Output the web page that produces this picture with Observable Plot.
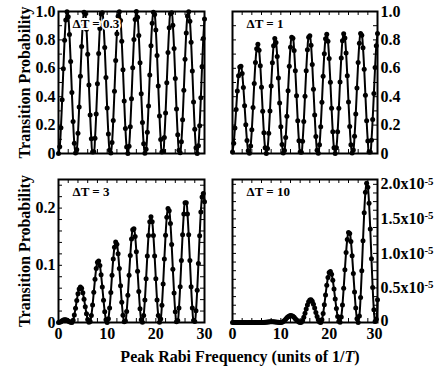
<!DOCTYPE html>
<html><head><meta charset="utf-8">
<script src="https://cdn.jsdelivr.net/npm/d3@7"></script>
<script src="https://cdn.jsdelivr.net/npm/@observablehq/plot@0.6"></script>
<style>
body{margin:0;background:#fff;}
#chart{position:relative;width:441px;height:378px;font-family:"Liberation Serif","Times New Roman",serif;font-weight:bold;color:#000;}
#chart svg{position:absolute;overflow:visible;}
#xlabel{position:absolute;left:40px;width:400px;top:348px;text-align:center;font-size:16px;line-height:18px;white-space:nowrap;}
</style></head>
<body>
<div id="chart"><div id="xlabel">Peak Rabi Frequency (units of 1/<i>T</i>)</div></div>
<script>
// Peak Rabi frequency (units of 1/T)
const rabiFreq = [0,0.25,0.5,0.75,1,1.25,1.5,1.75,2,2.25,2.5,2.75,3,3.25,3.5,3.75,4,4.25,4.5,4.75,5,5.25,5.5,5.75,6,6.25,6.5,6.75,7,7.25,7.5,7.75,8,8.25,8.5,8.75,9,9.25,9.5,9.75,10,10.25,10.5,10.75,11,11.25,11.5,11.75,12,12.25,12.5,12.75,13,13.25,13.5,13.75,14,14.25,14.5,14.75,15,15.25,15.5,15.75,16,16.25,16.5,16.75,17,17.25,17.5,17.75,18,18.25,18.5,18.75,19,19.25,19.5,19.75,20,20.25,20.5,20.75,21,21.25,21.5,21.75,22,22.25,22.5,22.75,23,23.25,23.5,23.75,24,24.25,24.5,24.75,25,25.25,25.5,25.75,26,26.25,26.5,26.75,27,27.25,27.5,27.75,28,28.25,28.5,28.75,29,29.25,29.5,29.75,30];

// Transition probability, ΔT = 0.3
const probDT03 = [0,0.048,0.182,0.378,0.596,0.797,0.940,0.999,0.963,0.838,0.648,0.430,0.226,0.073,0.003,
0.028,0.143,0.327,0.544,0.753,0.913,0.994,0.980,0.875,0.699,0.482,0.271,0.103,0.011,
0.013,0.108,0.278,0.491,0.705,0.880,0.982,0.992,0.907,0.746,0.536,0.320,0.138,0.025,
0.004,0.077,0.232,0.438,0.655,0.843,0.966,0.998,0.936,0.790,0.589,0.370,0.176,0.045,
0.000,0.051,0.188,0.385,0.604,0.803,0.943,1.000,0.960,0.831,0.639,0.421,0.219,0.069,0.002,
0.030,0.149,0.334,0.552,0.759,0.917,0.995,0.978,0.869,0.691,0.475,0.264,0.099,0.010,
0.015,0.113,0.285,0.499,0.712,0.885,0.984,0.991,0.903,0.739,0.528,0.313,0.132,0.023,0.005,
0.082,0.238,0.446,0.663,0.849,0.968,0.998,0.932,0.784,0.581,0.363,0.170,0.041,0.000,
0.055,0.195,0.393,0.612,0.809,0.948];

// Transition probability, ΔT = 1
const probDT1 = [0.011,0.073,0.179,0.310,0.441,0.548,0.609,0.615,0.564,0.465,0.337,0.203,0.091,0.019,
0.001,0.053,0.167,0.324,0.493,0.640,0.738,0.770,0.727,0.618,0.466,0.298,0.146,0.040,0.000,
0.036,0.142,0.299,0.476,0.639,0.758,0.809,0.782,0.683,0.532,0.355,0.188,0.063,0.003,
0.021,0.113,0.263,0.442,0.614,0.749,0.818,0.811,0.726,0.583,0.406,0.230,0.090,0.011,
0.009,0.086,0.226,0.403,0.583,0.730,0.818,0.830,0.762,0.627,0.453,0.272,0.119,0.023,
0.002,0.061,0.189,0.361,0.544,0.703,0.808,0.839,0.790,0.669,0.501,0.318,0.153,0.040,
0.000,0.041,0.154,0.319,0.504,0.673,0.794,0.844,0.814,0.708,0.548,0.363,0.191,0.062,0.003,
0.024,0.122,0.278,0.462,0.640,0.776,0.845,0.833,0.744,0.594,0.410,0.230,0.088,0.010,
0.011,0.093,0.240,0.422,0.606,0.758,0.845];

// Transition probability, ΔT = 3
const probDT3 = [0,0.0004,0.0015,0.0029,0.0042,0.0049,0.0048,0.0040,0.0027,0.0013,0.0003,
0.0001,0.0040,0.0129,0.0250,0.0383,0.0502,0.0586,0.0620,0.0597,0.0521,0.0407,0.0277,0.0151,0.0054,0.0004,
0.0018,0.0123,0.0304,0.0528,0.0755,0.0942,0.1055,0.1075,0.0998,0.0834,0.0621,0.0389,0.0189,0.0049,0,
0.0066,0.0252,0.0523,0.0827,0.1109,0.1316,0.1407,0.1368,0.1204,0.0946,0.0644,0.0353,0.0127,0.0011,
0.0028,0.0193,0.0476,0.0825,0.1173,0.1459,0.1622,0.1637,0.1502,0.1238,0.0896,0.0541,0.0241,0.0050,
0.0004,0.0124,0.0395,0.0765,0.1164,0.1519,0.1763,0.1850,0.1763,0.1519,0.1164,0.0765,0.0395,0.0124,0.0004,
0.0062,0.0301,0.0673,0.1110,0.1524,0.1839,0.1991,0.1953,0.1730,0.1364,0.0931,0.0514,0.0186,0.0015,
0.0037,0.0255,0.0627,0.1083,0.1535,0.1896,0.2094,0.2094,0.1896,0.1535,0.1083,0.0627,0.0255,0.0037,
0.0017,0.0204,0.0565,0.1033,0.1516,0.1930,0.2192,0.2255,0.2109];

// Transition probability, ΔT = 10, in units of 10^-5 (as the axis labels)
const probDT10e5 = [0,0,0,0,0,0,0,0,0,0,0,0,0,0,0,0,0,0,0,0,0,0,0,0,0,
0,0.001,0.002,0.005,0.007,0.009,0.011,0.012,0.012,0.011,0.009,0.007,0.004,0.002,0.001,0,
0.004,0.014,0.030,0.048,0.067,0.083,0.095,0.100,0.098,0.089,0.075,0.056,0.037,0.020,0.007,0.001,
0.004,0.030,0.075,0.134,0.196,0.255,0.300,0.326,0.328,0.307,0.265,0.209,0.146,0.086,0.038,0.008,
0.001,0.040,0.130,0.256,0.399,0.538,0.652,0.722,0.739,0.700,0.610,0.484,0.341,0.202,0.088,0.018,
0.002,0.079,0.253,0.494,0.763,1.013,1.203,1.301,1.290,1.171,0.967,0.708,0.443,0.211,0.055,
0,0.095,0.361,0.749,1.185,1.589,1.885,2.016,1.959,1.725,1.355,0.923,0.505,0.183,0.015,
0.048,0.328];

const panelTags = ["ΔT = 0.3", "ΔT = 1", "ΔT = 3", "ΔT = 10"];
const xTickLabels = [0, 10, 20, 30];
const xMinorTicks = [0,2,4,6,8,10,12,14,16,18,20,22,24,26,28,30];
const topTickLabels = [0, 0.2, 0.4, 0.6, 0.8, 1.0];
const topMinorTicks = [0,0.1,0.2,0.3,0.4,0.5,0.6,0.7,0.8,0.9,1.0];
const dt3TickLabels = [0, 0.1, 0.2];
const dt3MinorTicks = [0,0.02,0.04,0.06,0.08,0.1,0.12,0.14,0.16,0.18,0.2,0.22,0.24];
const dt10TickLabels = [0, 0.5, 1.0, 1.5, 2.0];
const dt10MinorTicks = [0,0.125,0.25,0.375,0.5,0.625,0.75,0.875,1,1.125,1.25,1.375,1.5,1.625,1.75,1.875,2];
const yTitle = "Transition Probability";

function panel(o) {
  const fw = o.width - o.ml - o.mr;
  const fh = o.height - o.mt - o.mb;
  const data = rabiFreq.map((x, i) => ({x, y: o.ys[i]}));
  const marks = [
    Plot.line(data, {x: "x", y: "y", stroke: "black", strokeWidth: 2, curve: "catmull-rom"}),
    Plot.dot(data, {x: "x", y: "y", r: 2.5, fill: "black", stroke: "none"}),
    Plot.tickY(o.minor, {y: d => d, insetRight: fw - 4, stroke: "black", strokeWidth: 1}),
    Plot.tickY(o.minor, {y: d => d, insetLeft: fw - 4, stroke: "black", strokeWidth: 1}),
    Plot.tickX(xMinorTicks, {x: d => d, insetTop: fh - 4, stroke: "black", strokeWidth: 1}),
    Plot.tickX(xMinorTicks, {x: d => d, insetBottom: fh - 4, stroke: "black", strokeWidth: 1}),
    Plot.frame({stroke: "black", strokeWidth: 2}),
    Plot.axisY(o.labels, {anchor: o.yAnchor, tickSize: 0, tickPadding: 3, tickFormat: o.fmt,
      label: o.ylabel || null, labelAnchor: "center", labelOffset: 40, labelArrow: "none", fill: "black"}),
    Plot.text([o.tag], {frameAnchor: "top-left", dx: 14, dy: 12, text: d => d, textAnchor: "start",
      lineAnchor: "middle", fontSize: 13, fill: "black", stroke: "white", strokeWidth: 4})
  ];
  if (o.xLabels) marks.push(Plot.axisX(xTickLabels, {anchor: "bottom", tickSize: 0, tickPadding: 5, tickFormat: d => String(d), label: null, fill: "black"}));
  const svg = Plot.plot({
    width: o.width, height: o.height,
    marginLeft: o.ml, marginRight: o.mr, marginTop: o.mt, marginBottom: o.mb,
    x: o.xLabels ? {domain: [0, 30]} : {domain: [0, 30], axis: null},
    y: {domain: o.yDomain},
    style: {fontFamily: '"Liberation Serif", "Times New Roman", serif', fontSize: "16px", fontWeight: "bold", background: "transparent", overflow: "visible", color: "black"},
    marks
  });
  svg.style.left = o.left + "px";
  svg.style.top = o.top + "px";
  svg.querySelectorAll('g[aria-label="y-axis tick label"] text').forEach(t => {
    const s = t.textContent;
    if (s.endsWith("x10-5")) {
      const m = s.slice(0, -5);
      t.textContent = m + "x10";
      const ts = document.createElementNS("http://www.w3.org/2000/svg", "tspan");
      ts.setAttribute("dy", "-0.45em");
      ts.setAttribute("font-size", "0.68em");
      ts.textContent = "-5";
      t.appendChild(ts);
    } else if (s === "0" && o.yAnchor === "right" && o.xLabels) {
      t.setAttribute("dy", "-0.08em");
    }
  });
  if (o.xLabels && o.yAnchor === "right") {
    svg.querySelectorAll('g[aria-label="x-axis tick label"] text').forEach(t => {
      if (t.textContent === "30") t.setAttribute("dx", "-3");
    });
  }
  document.getElementById("chart").appendChild(svg);
}

const fmt1 = d => d === 0 ? "0" : d.toFixed(1);
panel({ys: probDT03, tag: panelTags[0], left: 0, top: 0, width: 220, height: 165, ml: 58, mr: 16, mt: 11, mb: 12,
  yDomain: [0, 1], labels: topTickLabels, minor: topMinorTicks, yAnchor: "left", fmt: fmt1, ylabel: yTitle, xLabels: false});
panel({ys: probDT1, tag: panelTags[1], left: 220, top: 0, width: 221, height: 165, ml: 12, mr: 64, mt: 11, mb: 12,
  yDomain: [0, 1], labels: topTickLabels, minor: topMinorTicks, yAnchor: "right", fmt: fmt1, xLabels: false});
panel({ys: probDT3, tag: panelTags[2], left: 0, top: 165, width: 220, height: 190, ml: 58, mr: 16, mt: 14, mb: 33,
  yDomain: [0, 0.25], labels: dt3TickLabels, minor: dt3MinorTicks, yAnchor: "left", fmt: fmt1, ylabel: yTitle, xLabels: true});
panel({ys: probDT10e5, tag: panelTags[3], left: 220, top: 165, width: 221, height: 190, ml: 12, mr: 64, mt: 14, mb: 33,
  yDomain: [0, 2.07], labels: dt10TickLabels, minor: dt10MinorTicks, yAnchor: "right",
  fmt: d => d === 0 ? "0" : d.toFixed(1) + "x10-5", xLabels: true});
</script>
</body></html>
